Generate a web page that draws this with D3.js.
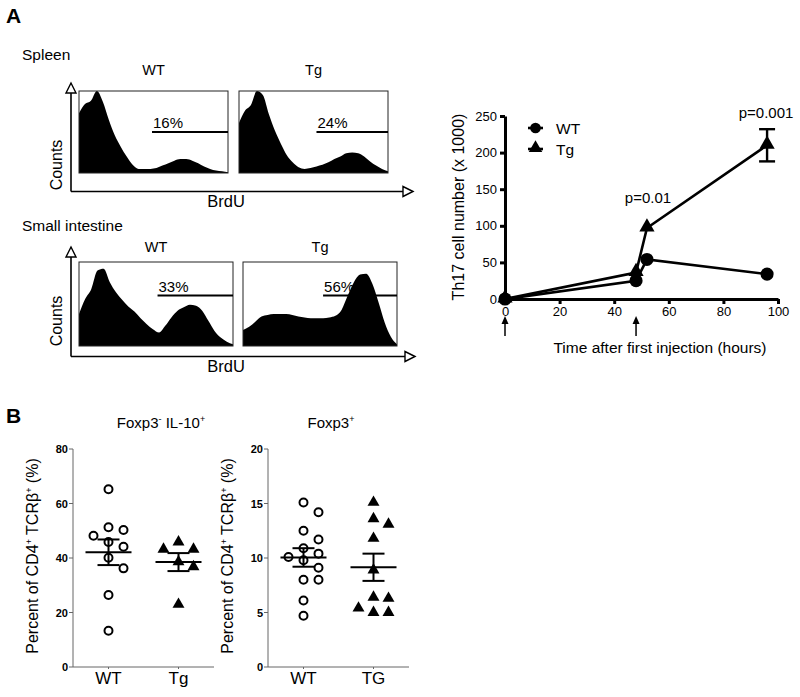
<!DOCTYPE html>
<html><head><meta charset="utf-8">
<script src="https://cdn.jsdelivr.net/npm/d3@7/dist/d3.min.js"></script>
<style>
body{margin:0;background:#fff}
svg{display:block}
text{font-family:"Liberation Sans",Arial,Helvetica,sans-serif;fill:#000}
</style>
</head><body>
<svg id="c" width="800" height="697"></svg>
<script>
// ---------------- DATA ----------------
// Histograms: relative counts read at 26 evenly spaced BrdU positions
const spleenWT = [0.73,0.84,0.88,1.0,0.87,0.65,0.46,0.32,0.2,0.1,0.05,0.05,0.05,0.06,0.09,0.12,0.15,0.17,0.17,0.15,0.12,0.08,0.05,0.03,0.02,0.01];
const spleenTg = [0.61,0.76,0.83,1.0,0.95,0.72,0.52,0.36,0.22,0.13,0.07,0.05,0.06,0.08,0.1,0.13,0.17,0.2,0.24,0.25,0.24,0.2,0.14,0.09,0.05,0.02];
const intestineWT = [0.38,0.56,0.68,0.9,0.92,0.76,0.64,0.55,0.47,0.41,0.33,0.26,0.2,0.16,0.24,0.34,0.42,0.46,0.49,0.48,0.42,0.3,0.18,0.1,0.05,0.02];
const intestineTg = [0.19,0.23,0.29,0.35,0.37,0.38,0.38,0.38,0.37,0.35,0.34,0.33,0.33,0.33,0.34,0.36,0.43,0.6,0.76,0.85,0.86,0.74,0.52,0.28,0.11,0.02];
const histGroups = ["WT", "Tg"];
const spleenGates = ["16%", "24%"];
const intestineGates = ["33%", "56%"];
const spleenGateStart = [0.49, 0.52];
const intestineGateStart = [0.51, 0.52];

// Th17 time course
const timeHours = [0, 48, 52, 96];
const wtTh17 = [0, 25, 54, 34];
const tgTh17 = [0, 36, 97, 210];
const tgTh17Sem = [0, 0, 0, 22];
const injectionTimes = [0, 48];
const pLabels = ["p=0.01", "p=0.001"];
const pTimes = [52, 96];
const xTicksL = [0, 20, 40, 60, 80, 100];
const yTicksL = [0, 50, 100, 150, 200, 250];

// Panel B
const groupsIL10 = ["WT", "Tg"];
const il10WT = [65.2, 51.3, 50.3, 48.2, 45.9, 44.1, 40.1, 36.2, 26.4, 13.3];
const il10Tg = [45.9, 43.2, 43.2, 38.6, 36.8, 23.0];
const il10Mean = [42.1, 38.5];
const il10Sem = [4.7, 3.3];
const il10Ticks = [0, 20, 40, 60, 80];

const groupsFoxp3 = ["WT", "TG"];
const foxp3WT = [15.1, 14.2, 12.5, 11.7, 10.9, 10.4, 10.1, 9.8, 9.1, 8.0, 8.0, 6.1, 4.7];
const foxp3Tg = [15.1, 13.6, 13.1, 11.8, 8.9, 6.4, 6.3, 5.4, 5.0, 5.0];
const foxp3Mean = [10.05, 9.15];
const foxp3Sem = [0.85, 1.25];
const foxp3Ticks = [0, 5, 10, 15, 20];

// ---------------- DRAW ----------------
const svg = d3.select("#c");

// Panel letters
svg.append("text").attr("x", 6).attr("y", 23).attr("font-size", 21).attr("font-weight", "bold").text("A");
svg.append("text").attr("x", 6).attr("y", 423).attr("font-size", 21).attr("font-weight", "bold").text("B");

// ---- Histograms ----
const bins = d3.range(spleenWT.length).map(i => i / (spleenWT.length - 1));

function arrowHist(ax, ayBottom, ayTop, axRight, g) {
  g.append("line").attr("x1", ax).attr("y1", ayBottom).attr("x2", ax).attr("y2", ayTop + 10)
    .attr("stroke", "#000").attr("stroke-width", 1.6);
  g.append("line").attr("x1", ax).attr("y1", ayBottom).attr("x2", axRight - 10).attr("y2", ayBottom)
    .attr("stroke", "#000").attr("stroke-width", 1.6);
  g.append("path").attr("d", `M${ax},${ayTop} L${ax - 5},${ayTop + 10} L${ax + 5},${ayTop + 10} Z`)
    .attr("fill", "#fff").attr("stroke", "#000").attr("stroke-width", 1.4);
  g.append("path").attr("d", `M${axRight},${ayBottom} L${axRight - 10},${ayBottom - 5} L${axRight - 10},${ayBottom + 5} Z`)
    .attr("fill", "#fff").attr("stroke", "#000").attr("stroke-width", 1.4);
}

function histRow(cfg) {
  const g = svg.append("g");
  g.append("text").attr("x", 22).attr("y", cfg.titleY).attr("font-size", 15.5).text(cfg.title);
  arrowHist(71, cfg.axisY, cfg.arrowTop, cfg.arrowRight, g);
  g.append("text").attr("transform", `translate(61.5,${cfg.countsY}) rotate(-90)`)
    .attr("text-anchor", "middle").attr("font-size", 16).text("Counts");
  g.append("text").attr("x", 226).attr("y", cfg.axisY + 15).attr("text-anchor", "middle")
    .attr("font-size", 16.5).text("BrdU");
  cfg.series.forEach((vals, i) => {
    const b = cfg.boxes[i];
    const x = d3.scaleLinear().domain([0, 1]).range([b[0], b[1]]);
    const y = d3.scaleLinear().domain([0, 1]).range([cfg.boxBottom, cfg.boxTop]);
    const area = d3.area().x((d, j) => x(bins[j])).y0(cfg.boxBottom).y1(d => y(d)).curve(d3.curveMonotoneX);
    g.append("path").attr("d", area(vals)).attr("fill", "#000");
    g.append("rect").attr("x", b[0]).attr("y", cfg.boxTop).attr("width", b[1] - b[0])
      .attr("height", cfg.boxBottom - cfg.boxTop).attr("fill", "none").attr("stroke", "#222").attr("stroke-width", 1);
    g.append("text").attr("x", (b[0] + b[1]) / 2).attr("y", cfg.labelY).attr("text-anchor", "middle")
      .attr("font-size", 14.5).text(histGroups[i]);
    const gy = y(cfg.gateLevel);
    const gx = x(cfg.gateStart[i]);
    g.append("line").attr("x1", gx).attr("x2", b[1]).attr("y1", gy).attr("y2", gy)
      .attr("stroke", "#000").attr("stroke-width", 2);
    g.append("text").attr("x", gx + 1).attr("y", gy - 4).attr("font-size", 15).text(cfg.gates[i]);
  });
}

histRow({
  title: "Spleen", titleY: 60, series: [spleenWT, spleenTg], boxes: [[79, 228], [239, 388]],
  boxTop: 91, boxBottom: 173, labelY: 75, gates: spleenGates, gateStart: spleenGateStart, gateLevel: 0.5,
  axisY: 191.5, arrowTop: 83, arrowRight: 413, countsY: 165
});
histRow({
  title: "Small intestine", titleY: 231, series: [intestineWT, intestineTg], boxes: [[79, 233], [243, 397]],
  boxTop: 262, boxBottom: 346, labelY: 252, gates: intestineGates, gateStart: intestineGateStart, gateLevel: 0.6,
  axisY: 356.5, arrowTop: 247, arrowRight: 415, countsY: 321
});

// ---- Th17 line chart ----
(function () {
  const g = svg.append("g");
  const x = d3.scaleLinear().domain([0, 100]).range([505, 778]);
  const y = d3.scaleLinear().domain([0, 250]).range([299, 116]);

  const xa = g.append("g").attr("transform", "translate(0,299)")
    .call(d3.axisBottom(x).tickValues(xTicksL).tickSize(5).tickSizeOuter(0).tickPadding(3));
  const ya = g.append("g").attr("transform", "translate(505,0)")
    .call(d3.axisLeft(y).tickValues(yTicksL).tickSize(5).tickSizeOuter(0).tickPadding(3));
  [xa, ya].forEach(a => {
    a.select(".domain").attr("stroke", "#000").attr("stroke-width", 3);
    a.selectAll(".tick line").attr("stroke", "#000").attr("stroke-width", 3);
    a.selectAll(".tick text").attr("font-size", 13).attr("font-family", "Liberation Sans, Arial, sans-serif").attr("fill", "#000");
  });

  g.append("text").attr("x", 660).attr("y", 353).attr("text-anchor", "middle").attr("font-size", 15.5)
    .text("Time after first injection (hours)");
  g.append("text").attr("transform", "translate(464,207) rotate(-90)").attr("text-anchor", "middle")
    .attr("font-size", 16).text("Th17 cell number (x 1000)");

  // injection arrows
  injectionTimes.forEach(t => {
    const ax = x(t);
    g.append("line").attr("x1", ax).attr("x2", ax).attr("y1", 336).attr("y2", 322)
      .attr("stroke", "#000").attr("stroke-width", 1.5);
    g.append("path").attr("d", `M${ax},${316} L${ax - 3.5},${324} L${ax + 3.5},${324} Z`).attr("fill", "#000");
  });

  const line = d3.line().x((d, i) => x(timeHours[i])).y(d => y(d));
  g.append("path").attr("d", line(wtTh17)).attr("fill", "none").attr("stroke", "#000").attr("stroke-width", 2.6);
  g.append("path").attr("d", line(tgTh17)).attr("fill", "none").attr("stroke", "#000").attr("stroke-width", 2.6);

  // error bars
  tgTh17.forEach((v, i) => {
    if (!tgTh17Sem[i]) return;
    const cx = x(timeHours[i]);
    const hi = y(v + tgTh17Sem[i]), lo = y(v - tgTh17Sem[i]);
    g.append("line").attr("x1", cx).attr("x2", cx).attr("y1", hi).attr("y2", lo).attr("stroke", "#000").attr("stroke-width", 2.4);
    [hi, lo].forEach(yy => g.append("line").attr("x1", cx - 8).attr("x2", cx + 8).attr("y1", yy).attr("y2", yy)
      .attr("stroke", "#000").attr("stroke-width", 2.4));
  });

  const tri = d3.symbol().type(d3.symbolTriangle).size(100);
  const cir = d3.symbol().type(d3.symbolCircle).size(135);
  tgTh17.forEach((v, i) => g.append("path").attr("d", tri()).attr("transform", `translate(${x(timeHours[i])},${y(v) - 1})`).attr("fill", "#000"));
  wtTh17.forEach((v, i) => g.append("path").attr("d", cir()).attr("transform", `translate(${x(timeHours[i])},${y(v)})`).attr("fill", "#000"));

  // p-values
  g.append("text").attr("x", x(pTimes[0]) + 1).attr("y", 203).attr("text-anchor", "middle").attr("font-size", 15).text(pLabels[0]);
  g.append("text").attr("x", x(pTimes[1]) - 1).attr("y", 118).attr("text-anchor", "middle").attr("font-size", 15).text(pLabels[1]);

  // legend
  const leg = [["WT", d3.symbol().type(d3.symbolCircle).size(90), 128, 0], ["Tg", d3.symbol().type(d3.symbolTriangle).size(80), 149, 1]];
  leg.forEach(([name, sym, ly, dyy]) => {
    g.append("line").attr("x1", 528).attr("x2", 543).attr("y1", ly).attr("y2", ly).attr("stroke", "#000").attr("stroke-width", 2.6);
    g.append("path").attr("d", sym()).attr("transform", `translate(535.5,${ly - dyy})`).attr("fill", "#000");
    g.append("text").attr("x", 556).attr("y", ly + 5.5).attr("font-size", 15.5).text(name);
  });
})();

// ---- Panel B scatter plots ----
function swarmOffsets(pixYs, diam) {
  const cands = [0, 15, -15, 7.5, -7.5, 22.5, -22.5, 30, -30];
  const placed = [];
  return pixYs.map(py => {
    for (const dx of cands) {
      if (placed.every(p => Math.hypot(p[0] - dx, p[1] - py) >= diam)) {
        placed.push([dx, py]);
        return dx;
      }
    }
    placed.push([0, py]);
    return 0;
  });
}

function dotPanel(cfg) {
  const g = svg.append("g");
  const y = d3.scaleLinear().domain([cfg.ticks[0], cfg.ticks[cfg.ticks.length - 1]]).range([667, 449]);
  const x = d3.scalePoint().domain(cfg.groups).range([cfg.ax + 35.5, cfg.ax + 105.5]);

  g.append("line").attr("x1", cfg.ax).attr("x2", cfg.ax).attr("y1", 449).attr("y2", 667).attr("stroke", "#666").attr("stroke-width", 1);
  g.append("line").attr("x1", cfg.ax).attr("x2", cfg.ax + 141).attr("y1", 667).attr("y2", 667).attr("stroke", "#666").attr("stroke-width", 1);
  cfg.ticks.forEach(t => {
    g.append("line").attr("x1", cfg.ax - 4).attr("x2", cfg.ax).attr("y1", y(t)).attr("y2", y(t)).attr("stroke", "#666");
    g.append("text").attr("x", cfg.ax - 5).attr("y", y(t) + 4).attr("text-anchor", "end")
      .attr("font-size", 11).attr("font-weight", "bold").text(t);
  });
  cfg.groups.forEach(gr => {
    g.append("line").attr("x1", x(gr)).attr("x2", x(gr)).attr("y1", 667).attr("y2", 669).attr("stroke", "#666");
    g.append("text").attr("x", x(gr)).attr("y", 684).attr("text-anchor", "middle").attr("font-size", 17).text(gr);
  });

  // y label
  const yl = g.append("text").attr("transform", `translate(${cfg.ax - 35},556) rotate(-90)`)
    .attr("text-anchor", "middle").attr("font-size", 16);
  yl.append("tspan").text("Percent of CD4");
  yl.append("tspan").attr("font-size", 9).attr("dy", -6).text("+");
  yl.append("tspan").attr("dy", 6).text(" TCRβ");
  yl.append("tspan").attr("font-size", 9).attr("dy", -6).text("+");
  yl.append("tspan").attr("dy", 6).text(" (%)");

  // title
  const tt = g.append("text").attr("x", cfg.titleX).attr("y", 428).attr("text-anchor", "middle").attr("font-size", 15);
  let prevSup = false;
  cfg.title.forEach(([s, sup]) => {
    const ts = tt.append("tspan").text(s);
    if (sup) ts.attr("font-size", 9).attr("dy", -6);
    else if (prevSup) ts.attr("dy", 6);
    prevSup = sup;
  });

  // points
  const circ = d3.symbol().type(d3.symbolCircle).size(50);
  const tri = d3.symbol().type(d3.symbolTriangle).size(62);
  const wOff = swarmOffsets(cfg.wt.map(v => y(v)), 11);
  cfg.wt.forEach((v, i) => g.append("path").attr("d", circ())
    .attr("transform", `translate(${x(cfg.groups[0]) + wOff[i]},${y(v)})`)
    .attr("fill", "#fff").attr("stroke", "#000").attr("stroke-width", 2));
  const tOff = swarmOffsets(cfg.tg.map(v => y(v)), 11);
  cfg.tg.forEach((v, i) => g.append("path").attr("d", tri())
    .attr("transform", `translate(${x(cfg.groups[1]) + tOff[i]},${y(v)})`).attr("fill", "#000"));

  // mean +/- SEM
  cfg.groups.forEach((gr, i) => {
    const cx = x(gr), m = y(cfg.mean[i]), hi = y(cfg.mean[i] + cfg.sem[i]), lo = y(cfg.mean[i] - cfg.sem[i]);
    const st = l => l.attr("stroke", "#000").attr("stroke-width", 2);
    st(g.append("line").attr("x1", cx - 23).attr("x2", cx + 23).attr("y1", m).attr("y2", m));
    st(g.append("line").attr("x1", cx).attr("x2", cx).attr("y1", hi).attr("y2", lo));
    st(g.append("line").attr("x1", cx - 11).attr("x2", cx + 11).attr("y1", hi).attr("y2", hi));
    st(g.append("line").attr("x1", cx - 11).attr("x2", cx + 11).attr("y1", lo).attr("y2", lo));
  });
}

dotPanel({ ax: 73, ticks: il10Ticks, groups: groupsIL10, wt: il10WT, tg: il10Tg, mean: il10Mean, sem: il10Sem,
  titleX: 161, title: [["Foxp3", false], ["-", true], [" IL-10", false], ["+", true]] });
dotPanel({ ax: 268, ticks: foxp3Ticks, groups: groupsFoxp3, wt: foxp3WT, tg: foxp3Tg, mean: foxp3Mean, sem: foxp3Sem,
  titleX: 331, title: [["Foxp3", false], ["+", true]] });
</script>
</body></html>
